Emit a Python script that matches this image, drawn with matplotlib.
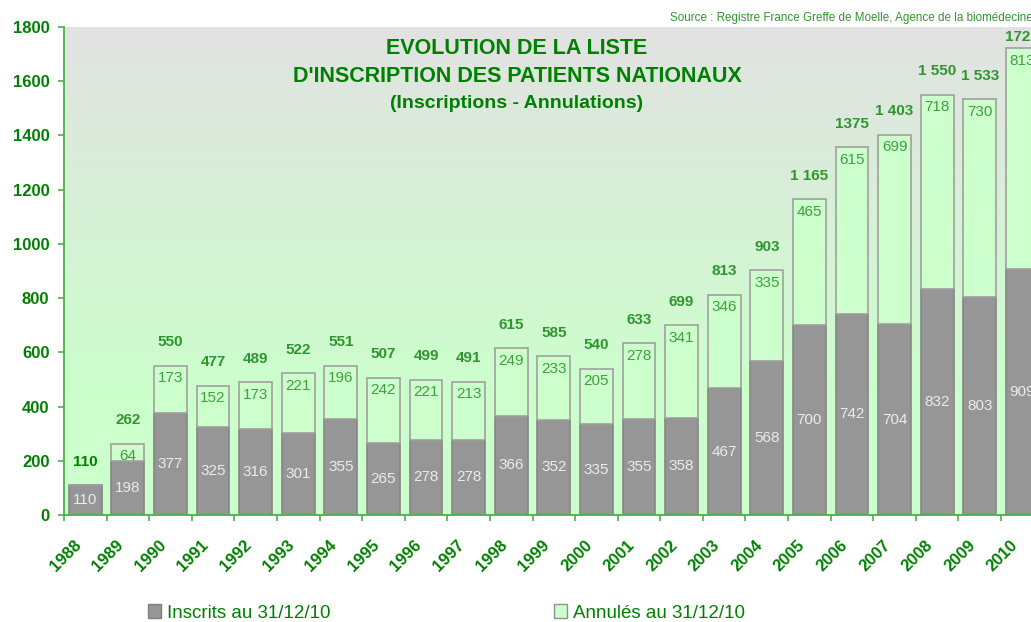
import numpy as np
import matplotlib
matplotlib.use("Agg")
import matplotlib.pyplot as plt
from matplotlib.patches import Patch
from matplotlib.colors import LinearSegmentedColormap
import matplotlib.transforms as mtransforms

years = [str(y) for y in range(1988, 2011)]
inscrits = [110, 198, 377, 325, 316, 301, 355, 265, 278, 278, 366, 352, 335,
            355, 358, 467, 568, 700, 742, 704, 832, 803, 909]
annules = [0, 64, 173, 152, 173, 221, 196, 242, 221, 213, 249, 233, 205,
           278, 341, 346, 335, 465, 615, 699, 718, 730, 813]
total_labels = ["110", "262", "550", "477", "489", "522", "551", "507", "499",
                "491", "615", "585", "540", "633", "699", "813", "903",
                "1 165", "1375", "1 403", "1 550", "1 533", "1722"]
yticks = [0, 200, 400, 600, 800, 1000, 1200, 1400, 1600, 1800]
title_lines = ["EVOLUTION DE LA LISTE", "D'INSCRIPTION DES PATIENTS NATIONAUX",
               "(Inscriptions - Annulations)"]
source = "Source : Registre France Greffe de Moelle, Agence de la biomédecine"
legend_labels = ["Inscrits au 31/12/10", "Annulés au 31/12/10"]

plt.rcParams['font.family'] = ['Liberation Sans', 'DejaVu Sans']

W, H = 1031, 622
fig = plt.figure(figsize=(W / 100, H / 100), dpi=100)
fig.patch.set_facecolor('white')

left_px, right_px, top_px, bot_px = 64, 1043.6, 27, 515
ax = fig.add_axes([left_px / W, (H - bot_px) / H,
                   (right_px - left_px) / W, (bot_px - top_px) / H])

GREEN_DARK = '#008000'
GREEN_MED = '#2f962f'
GREEN_LBL = '#3f9f3f'
GRAY = '#969696'
LIGHT = '#ccffcc'

x = np.arange(len(years))
ax.set_xlim(-0.5, len(years) - 0.5)
ax.set_ylim(0, 1800)

# gradient background
cmap = LinearSegmentedColormap.from_list(
    'bg', [(0.0, LIGHT), (0.25, LIGHT), (1.0, '#e2e2e2')])
grad = np.linspace(0, 1, 256).reshape(-1, 1)
ax.imshow(grad, cmap=cmap, aspect='auto', origin='lower',
          extent=(-0.5, len(years) - 0.5, 0, 1800), zorder=0)

bw = 0.77
ax.bar(x, inscrits, width=bw, color=GRAY, edgecolor='#868686',
       linewidth=1.2, zorder=2)
ann_vals = np.array(annules)
ax.bar(x, ann_vals, bottom=inscrits, width=bw, color=LIGHT,
       edgecolor='#a0a0a0', linewidth=1.2, zorder=2)

totals = np.array(inscrits) + ann_vals
px_per_unit = (bot_px - top_px) / 1800.0
for i in range(len(years)):
    ax.annotate(str(inscrits[i]), (x[i], inscrits[i] / 2), ha='center',
                va='center', fontsize=11, color='#ebebeb', zorder=3)
    if annules[i] > 0:
        ax.annotate(str(annules[i]), (x[i], totals[i]), xytext=(0, -9),
                    textcoords='offset points', ha='center', va='center',
                    fontsize=11, color=GREEN_LBL, zorder=3)
    ylab = min(totals[i] + 23.5 / px_per_unit, 1763)
    ax.text(x[i], ylab, total_labels[i], ha='center', va='center',
            fontsize=11, fontweight='bold',
            color=GREEN_DARK if i == 0 else GREEN_MED, zorder=3)

for s in ['top', 'right']:
    ax.spines[s].set_visible(False)
for s in ['left', 'bottom']:
    ax.spines[s].set_color('#4caf4c')
    ax.spines[s].set_linewidth(1.3)

ax.set_yticks(yticks)
ax.set_yticklabels([str(v) for v in yticks])
ax.tick_params(axis='y', colors='#4caf4c', length=4.5, width=1.2,
               labelcolor=GREEN_DARK, labelsize=12, pad=6)
for lab in ax.get_yticklabels():
    lab.set_fontweight('bold')

ax.set_xticks(np.arange(-0.5, len(years), 1.0))
ax.set_xticklabels([])
ax.tick_params(axis='x', which='major', colors='#4caf4c', length=4.5, width=1.2)
ax.set_xticks(x, minor=True)
ax.set_xticklabels(years, minor=True)
ax.tick_params(axis='x', which='minor', length=0, pad=16,
               labelcolor=GREEN_DARK, labelsize=12)
shift = mtransforms.ScaledTranslation(-12 / 100, 0, fig.dpi_scale_trans)
for lab in ax.get_xticklabels(minor=True):
    lab.set_rotation(45)
    lab.set_ha('right')
    lab.set_va('top')
    lab.set_rotation_mode('anchor')
    lab.set_fontweight('bold')
    lab.set_transform(lab.get_transform() + shift)

# title inside plot
cx = 517 / W
fig.text(cx, 1 - 49 / H, title_lines[0], ha='center', va='center',
         fontsize=15.5, fontweight='bold', color=GREEN_DARK)
fig.text(cx, 1 - 77 / H, title_lines[1], ha='center', va='center',
         fontsize=15.5, fontweight='bold', color=GREEN_DARK)
fig.text(cx, 1 - 104 / H, title_lines[2], ha='center', va='center',
         fontsize=14, fontweight='bold', color=GREEN_DARK)

fig.text(670 / W, 1 - 18 / H, source, ha='left', va='center',
         fontsize=8.4, color='#2f962f')

# legend
h1 = Patch(facecolor=GRAY, edgecolor='#808080', linewidth=1)
h2 = Patch(facecolor=LIGHT, edgecolor='#909090', linewidth=1)
for h, lbl, xp in [(h1, legend_labels[0], 148), (h2, legend_labels[1], 554)]:
    lg = fig.legend([h], [lbl], loc='center left',
                    bbox_to_anchor=(xp / W, 1 - 613 / H), frameon=False,
                    borderpad=0, borderaxespad=0, handlelength=0.7,
                    handleheight=0.7, handletextpad=0.3, fontsize=13.5)
    for t in lg.get_texts():
        t.set_color(GREEN_DARK)

fig.savefig('out.png', dpi=100)
